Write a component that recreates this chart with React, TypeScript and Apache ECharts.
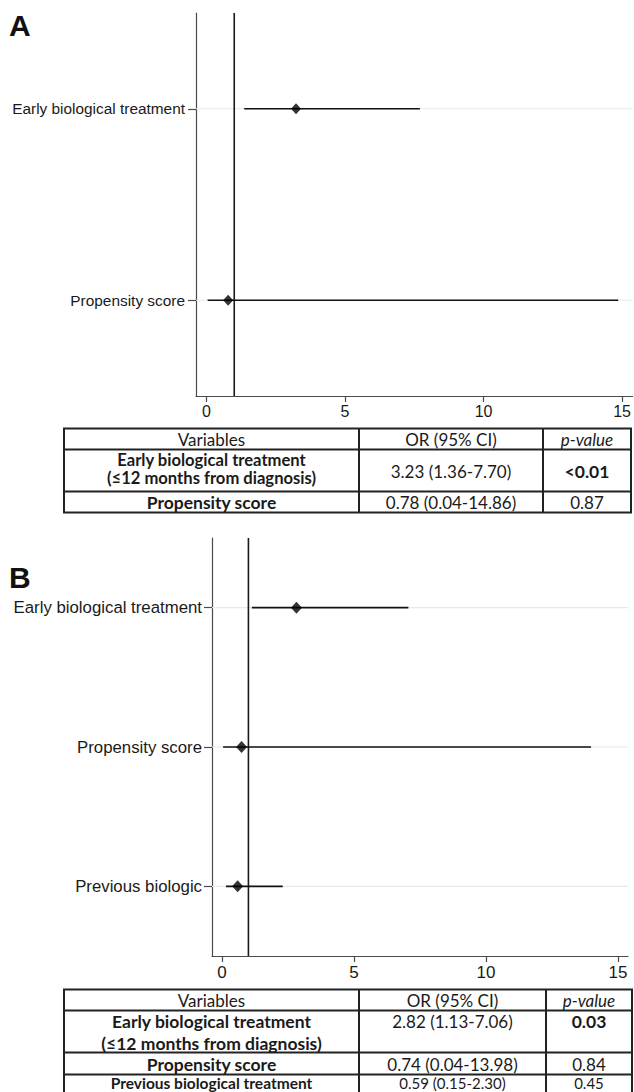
import React, { useEffect, useRef } from 'react';
import * as echarts from 'echarts';

// ---------- data ----------
const catsA = ['Early biological treatment', 'Propensity score'];
const orA = [3.23, 0.78];
const lowA = [1.36, 0.04];
const highA = [7.7, 14.86];

const catsB = ['Early biological treatment', 'Propensity score', 'Previous biologic'];
const orB = [2.82, 0.74, 0.59];
const lowB = [1.13, 0.04, 0.15];
const highB = [7.06, 13.98, 2.3];

const xTicks = [0, 5, 10, 15];
const refValue = 1;

const tableHeader = ['Variables', 'OR (95% CI)', 'p-value'];
const tableAVars = [['Early biological treatment', '(≤12 months from diagnosis)'], ['Propensity score']];
const tableAOR = ['3.23 (1.36-7.70)', '0.78 (0.04-14.86)'];
const tableAP = ['<0.01', '0.87'];
const tableASig = [true, false];

const tableBVars = [
  ['Early biological treatment', '(≤12 months from diagnosis)'],
  ['Propensity score'],
  ['Previous biological treatment'],
];
const tableBOR = ['2.82 (1.13-7.06)', '0.74 (0.04-13.98)', '0.59 (0.15-2.30)'];
const tableBP = ['0.03', '0.84', '0.45'];
const tableBSig = [true, false, false];

// ---------- helpers ----------
const AX = '#4a4a4a';
const SANS = '"Liberation Sans", Arial, sans-serif';
const TFONT = 'Lato, "Open Sans", sans-serif';
const TCOL = '#1a1a1a';

function axesFor(idx: number, cats: string[], labelSize: number, tickSize: number, yMargin: number, xMargin: number) {
  const xAxis = {
    type: 'value',
    gridIndex: idx,
    min: -0.38,
    max: 15.38,
    axisLine: { show: true, onZero: false, lineStyle: { color: AX, width: 1.2 } },
    axisTick: { show: true, customValues: xTicks, length: 6, lineStyle: { color: AX, width: 1.2 } },
    axisLabel: { customValues: xTicks, fontSize: tickSize, color: TCOL, fontFamily: SANS, margin: xMargin },
    splitLine: { show: false },
  };
  const yAxis = {
    type: 'category',
    gridIndex: idx,
    data: cats,
    inverse: true,
    axisLine: { show: true, onZero: false, lineStyle: { color: AX, width: 1.2 } },
    axisTick: { show: true, alignWithLabel: true, length: 8, lineStyle: { color: AX, width: 1.2 } },
    axisLabel: { fontSize: labelSize, color: TCOL, fontFamily: SANS, margin: yMargin },
    splitLine: { show: false },
  };
  return { xAxis, yAxis };
}

function seriesFor(idx: number, cats: string[], or: number[], low: number[], high: number[], dsize: number[]) {
  return [
    {
      type: 'custom',
      xAxisIndex: idx,
      yAxisIndex: idx,
      z: 1,
      silent: true,
      data: cats.map((_, i) => [0, i]),
      renderItem: (params: any, api: any) => {
        const p = api.coord([0, api.value(1)]);
        const cs = params.coordSys;
        return {
          type: 'line',
          shape: { x1: cs.x, y1: p[1], x2: cs.x + cs.width, y2: p[1] },
          style: { stroke: '#e8e8e8', lineWidth: 1.2 },
        };
      },
    },
    {
      type: 'custom',
      xAxisIndex: idx,
      yAxisIndex: idx,
      z: 2,
      silent: true,
      data: [[refValue, 0]],
      renderItem: (params: any, api: any) => {
        const p = api.coord([api.value(0), 0]);
        const cs = params.coordSys;
        return {
          type: 'line',
          shape: { x1: p[0], y1: cs.y, x2: p[0], y2: cs.y + cs.height },
          style: { stroke: '#1a1a1a', lineWidth: 1.6 },
        };
      },
    },
    {
      type: 'custom',
      xAxisIndex: idx,
      yAxisIndex: idx,
      z: 3,
      silent: true,
      data: cats.map((_, i) => [low[i], i, high[i]]),
      renderItem: (params: any, api: any) => {
        const a = api.coord([api.value(0), api.value(1)]);
        const b = api.coord([api.value(2), api.value(1)]);
        return {
          type: 'line',
          shape: { x1: a[0], y1: a[1], x2: b[0], y2: b[1] },
          style: { stroke: '#111', lineWidth: 1.7 },
        };
      },
    },
    {
      type: 'scatter',
      xAxisIndex: idx,
      yAxisIndex: idx,
      z: 4,
      symbol: 'diamond',
      symbolSize: dsize,
      itemStyle: { color: '#000' },
      data: or.map((v, i) => [v, i]),
    },
  ];
}

function hLine(x1: number, x2: number, y: number) {
  return { type: 'line', shape: { x1, y1: y, x2, y2: y }, style: { stroke: '#222', lineWidth: 2 }, silent: true };
}
function vLine(x: number, y1: number, y2: number) {
  return { type: 'line', shape: { x1: x, y1, x2: x, y2 }, style: { stroke: '#222', lineWidth: 2 }, silent: true };
}
function txt(text: string, x: number, y: number, opts: any = {}) {
  return {
    type: 'text',
    silent: true,
    style: {
      text,
      x,
      y,
      textAlign: 'center',
      textVerticalAlign: 'middle',
      fill: TCOL,
      fontFamily: TFONT,
      fontSize: opts.size || (opts.bold ? 17.5 : 17),
      fontWeight: opts.bold ? 'bold' : 'normal',
      fontStyle: opts.italic ? 'italic' : 'normal',
    },
  };
}

function tableGraphics(
  cols: number[],
  rowLines: number[],
  headerY: number,
  vars: string[][],
  ors: string[],
  ps: string[],
  sig: boolean[],
  varLineYs: number[][],
  valueYs: number[],
  sizes: (number | undefined)[],
  valueSizes: (number | undefined)[],
) {
  const els: any[] = [];
  const left = cols[0];
  const right = cols[cols.length - 1];
  rowLines.forEach((y) => els.push(hLine(left - 1, right + 1, y)));
  cols.forEach((x) => els.push(vLine(x, rowLines[0], rowLines[rowLines.length - 1])));
  const c1 = (cols[0] + cols[1]) / 2;
  const c2 = (cols[1] + cols[2]) / 2;
  const c3 = (cols[2] + cols[3]) / 2;
  els.push(txt(tableHeader[0], c1, headerY));
  els.push(txt(tableHeader[1], c2, headerY));
  els.push(txt(tableHeader[2], c3, headerY, { italic: true }));
  vars.forEach((lines, r) => {
    const size = sizes[r];
    const vsize = valueSizes[r];
    lines.forEach((l, k) => els.push(txt(l, c1, varLineYs[r][k], { bold: true, size })));
    els.push(txt(ors[r], c2, valueYs[r], { size: vsize }));
    els.push(txt(ps[r], c3, valueYs[r], { bold: sig[r], size: vsize }));
  });
  return els;
}

export default function App() {
  const ref = useRef<HTMLDivElement>(null);
  useEffect(() => {
    if (!ref.current) return;
    const chart = echarts.init(ref.current, null, { renderer: 'svg' });
    const a = axesFor(0, catsA, 15.4, 16, 11, 7);
    const b = axesFor(1, catsB, 16.8, 17, 10, 8);

    const graphics: any[] = [
      {
        type: 'text',
        silent: true,
        style: { text: 'A', x: 9, y: 25, textVerticalAlign: 'middle', fontFamily: SANS, fontWeight: 'bold', fontSize: 30, fill: '#111' },
      },
      {
        type: 'text',
        silent: true,
        style: { text: 'B', x: 9, y: 577, textVerticalAlign: 'middle', fontFamily: SANS, fontWeight: 'bold', fontSize: 30, fill: '#111' },
      },
      ...tableGraphics(
        [64, 359, 543, 631],
        [428.5, 449.5, 491.5, 512.5],
        439,
        tableAVars,
        tableAOR,
        tableAP,
        tableASig,
        [[460, 478], [502.5]],
        [471.5, 502.5],
        [16.6, undefined],
        [undefined, undefined],
      ),
      ...tableGraphics(
        [64, 359, 546, 632],
        [989.5, 1010.5, 1052.5, 1074.5, 1097],
        1000,
        tableBVars,
        tableBOR,
        tableBP,
        tableBSig,
        [[1021.5, 1043], [1064], [1082.5]],
        [1021.5, 1064, 1082.5],
        [undefined, undefined, 15.5],
        [undefined, undefined, 15],
      ),
    ];

    chart.setOption({
      animation: false,
      backgroundColor: '#fff',
      grid: [
        { left: 196, top: 13, width: 437, height: 383 },
        { left: 212, top: 538, width: 416, height: 418 },
      ],
      xAxis: [a.xAxis, b.xAxis],
      yAxis: [a.yAxis, b.yAxis],
      series: [
        ...seriesFor(0, catsA, orA, lowA, highA, [10, 11]),
        ...seriesFor(1, catsB, orB, lowB, highB, [11, 12]),
      ],
      graphic: graphics,
    });
    return () => chart.dispose();
  }, []);
  return <div ref={ref} style={{ position: 'absolute', left: 0, top: 0, width: 634, height: 1092 }} />;
}
